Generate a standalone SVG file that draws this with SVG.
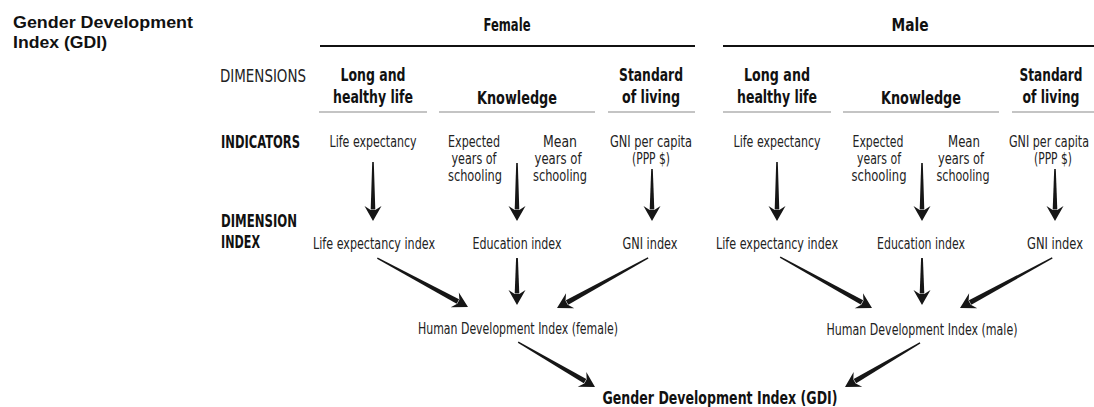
<svg xmlns="http://www.w3.org/2000/svg" xmlns:xlink="http://www.w3.org/1999/xlink" width="1094" height="407" viewBox="0 0 1094 407">
<style>
.title{font-family:"Liberation Sans",Arial,sans-serif;font-weight:bold;font-size:17px;fill:#111}
.hb{font-family:"Liberation Sans Narrow","DejaVu Sans Condensed","Liberation Sans",sans-serif;font-weight:bold;font-size:18.5px;fill:#111;text-anchor:middle}
.lb{font-family:"Liberation Sans Narrow","DejaVu Sans Condensed","Liberation Sans",sans-serif;font-weight:bold;font-size:17.5px;fill:#111}
.lr{font-family:"Liberation Sans Narrow","DejaVu Sans Condensed","Liberation Sans",sans-serif;font-size:18px;fill:#222}
.t{font-family:"Liberation Sans Narrow","DejaVu Sans Condensed","Liberation Sans",sans-serif;font-size:16.5px;fill:#222;text-anchor:middle}
.rule{stroke:#111;stroke-width:2}
.sub{stroke:#8a8a8a;stroke-width:1.2}
.arrow{fill:#161616}
</style>
<defs>
<polygon id="ah" points="0,0 -15,-8.5 -11,-2.3 -11,2.3 -15,8.5"/>
</defs>

<g id="title">
<text class="title" x="13" y="28" textLength="180" lengthAdjust="spacingAndGlyphs">Gender Development</text>
<text class="title" x="13" y="48" textLength="94" lengthAdjust="spacingAndGlyphs">Index (GDI)</text>
</g>

<g id="row-labels">
<text class="lr" x="220" y="82" textLength="86" lengthAdjust="spacingAndGlyphs">DIMENSIONS</text>
<text class="lb" x="221" y="148" textLength="79" lengthAdjust="spacingAndGlyphs">INDICATORS</text>
<text class="lb" x="221" y="227" textLength="76" lengthAdjust="spacingAndGlyphs">DIMENSION</text>
<text class="lb" x="221" y="248" textLength="39" lengthAdjust="spacingAndGlyphs">INDEX</text>
</g>

<g id="female-header">
<text class="hb" x="507" y="31" textLength="47" lengthAdjust="spacingAndGlyphs">Female</text>
<line class="rule" x1="320" y1="46" x2="695" y2="46"/>
</g>
<g id="male-header">
<text class="hb" x="910" y="31" textLength="37" lengthAdjust="spacingAndGlyphs">Male</text>
<line class="rule" x1="723" y1="46" x2="1094" y2="46"/>
</g>

<g id="f-dim-health">
<text class="hb" x="373" y="81" textLength="65" lengthAdjust="spacingAndGlyphs">Long and</text>
<text class="hb" x="373" y="103" textLength="80" lengthAdjust="spacingAndGlyphs">healthy life</text>
<line class="sub" x1="319" y1="112" x2="427" y2="112"/>
</g>
<g id="f-dim-knowledge">
<text class="hb" x="517" y="104" textLength="80" lengthAdjust="spacingAndGlyphs">Knowledge</text>
<line class="sub" x1="439" y1="112" x2="595" y2="112"/>
</g>
<g id="f-dim-living">
<text class="hb" x="651" y="81" textLength="64" lengthAdjust="spacingAndGlyphs">Standard</text>
<text class="hb" x="651" y="103" textLength="58" lengthAdjust="spacingAndGlyphs">of living</text>
<line class="sub" x1="608" y1="112" x2="695" y2="112"/>
</g>
<g id="m-dim-health">
<text class="hb" x="777" y="81" textLength="66" lengthAdjust="spacingAndGlyphs">Long and</text>
<text class="hb" x="777" y="103" textLength="80" lengthAdjust="spacingAndGlyphs">healthy life</text>
<line class="sub" x1="723" y1="112" x2="831" y2="112"/>
</g>
<g id="m-dim-knowledge">
<text class="hb" x="921" y="104" textLength="80" lengthAdjust="spacingAndGlyphs">Knowledge</text>
<line class="sub" x1="843" y1="112" x2="999" y2="112"/>
</g>
<g id="m-dim-living">
<text class="hb" x="1051" y="81" textLength="63" lengthAdjust="spacingAndGlyphs">Standard</text>
<text class="hb" x="1051" y="103" textLength="57" lengthAdjust="spacingAndGlyphs">of living</text>
<line class="sub" x1="1012" y1="112" x2="1094" y2="112"/>
</g>

<g id="f-ind-life">
<text class="t" x="373" y="147" textLength="87" lengthAdjust="spacingAndGlyphs">Life expectancy</text>
</g>
<g id="f-ind-expected">
<text class="t" x="474" y="147" textLength="52" lengthAdjust="spacingAndGlyphs">Expected</text>
<text class="t" x="474" y="164" textLength="45" lengthAdjust="spacingAndGlyphs">years of</text>
<text class="t" x="475" y="181" textLength="54" lengthAdjust="spacingAndGlyphs">schooling</text>
</g>
<g id="f-ind-mean">
<text class="t" x="560" y="147" textLength="34" lengthAdjust="spacingAndGlyphs">Mean</text>
<text class="t" x="558" y="164" textLength="47" lengthAdjust="spacingAndGlyphs">years of</text>
<text class="t" x="560" y="181" textLength="54" lengthAdjust="spacingAndGlyphs">schooling</text>
</g>
<g id="f-ind-gni">
<text class="t" x="651" y="147" textLength="82" lengthAdjust="spacingAndGlyphs">GNI per capita</text>
<text class="t" x="651" y="164" textLength="38" lengthAdjust="spacingAndGlyphs">(PPP $)</text>
</g>
<g id="m-ind-life">
<text class="t" x="777" y="147" textLength="87" lengthAdjust="spacingAndGlyphs">Life expectancy</text>
</g>
<g id="m-ind-expected">
<text class="t" x="878" y="147" textLength="51" lengthAdjust="spacingAndGlyphs">Expected</text>
<text class="t" x="879" y="164" textLength="44" lengthAdjust="spacingAndGlyphs">years of</text>
<text class="t" x="879" y="181" textLength="55" lengthAdjust="spacingAndGlyphs">schooling</text>
</g>
<g id="m-ind-mean">
<text class="t" x="964" y="147" textLength="32" lengthAdjust="spacingAndGlyphs">Mean</text>
<text class="t" x="961" y="164" textLength="46" lengthAdjust="spacingAndGlyphs">years of</text>
<text class="t" x="963" y="181" textLength="53" lengthAdjust="spacingAndGlyphs">schooling</text>
</g>
<g id="m-ind-gni">
<text class="t" x="1049" y="147" textLength="80" lengthAdjust="spacingAndGlyphs">GNI per capita</text>
<text class="t" x="1053" y="164" textLength="38" lengthAdjust="spacingAndGlyphs">(PPP $)</text>
</g>

<g id="f-idx-life"><text class="t" x="374" y="249" textLength="122" lengthAdjust="spacingAndGlyphs">Life expectancy index</text></g>
<g id="f-idx-edu"><text class="t" x="517" y="249" textLength="89" lengthAdjust="spacingAndGlyphs">Education index</text></g>
<g id="f-idx-gni"><text class="t" x="650" y="249" textLength="55" lengthAdjust="spacingAndGlyphs">GNI index</text></g>
<g id="m-idx-life"><text class="t" x="777" y="249" textLength="122" lengthAdjust="spacingAndGlyphs">Life expectancy index</text></g>
<g id="m-idx-edu"><text class="t" x="921" y="249" textLength="88" lengthAdjust="spacingAndGlyphs">Education index</text></g>
<g id="m-idx-gni"><text class="t" x="1055" y="249" textLength="56" lengthAdjust="spacingAndGlyphs">GNI index</text></g>

<g id="f-hdi"><text class="t" x="518" y="334" textLength="200" lengthAdjust="spacingAndGlyphs">Human Development Index (female)</text></g>
<g id="m-hdi"><text class="t" x="922" y="335" textLength="191" lengthAdjust="spacingAndGlyphs">Human Development Index (male)</text></g>
<g id="gdi"><text class="hb" x="720" y="404" textLength="235" lengthAdjust="spacingAndGlyphs">Gender Development Index (GDI)</text></g>

<g id="connectors" class="arrow">
<g transform="translate(373,221) rotate(90)"><use xlink:href="#ah"/><polygon points="-59,-0.8 -11.5,-2.3 -11.5,2.3 -59,0.8"/></g>
<g transform="translate(517,221) rotate(90)"><use xlink:href="#ah"/><polygon points="-58,-0.8 -11.5,-2.3 -11.5,2.3 -58,0.8"/></g>
<g transform="translate(652,221) rotate(90)"><use xlink:href="#ah"/><polygon points="-52,-0.8 -11.5,-2.3 -11.5,2.3 -52,0.8"/></g>
<g transform="translate(777,221) rotate(90)"><use xlink:href="#ah"/><polygon points="-59,-0.8 -11.5,-2.3 -11.5,2.3 -59,0.8"/></g>
<g transform="translate(922,221) rotate(90)"><use xlink:href="#ah"/><polygon points="-58,-0.8 -11.5,-2.3 -11.5,2.3 -58,0.8"/></g>
<g transform="translate(1055,221) rotate(90)"><use xlink:href="#ah"/><polygon points="-52,-0.8 -11.5,-2.3 -11.5,2.3 -52,0.8"/></g>
<g transform="translate(468,307) rotate(28.3)"><use xlink:href="#ah"/><polygon points="-103,-0.7 -11.5,-2.5 -11.5,2.5 -103,0.7"/></g>
<g transform="translate(517,305) rotate(90)"><use xlink:href="#ah"/><polygon points="-47,-0.9 -11.5,-2.3 -11.5,2.3 -47,0.9"/></g>
<g transform="translate(557,308) rotate(151.2)"><use xlink:href="#ah"/><polygon points="-104,-0.7 -11.5,-2.5 -11.5,2.5 -104,0.7"/></g>
<g transform="translate(872,308) rotate(29)"><use xlink:href="#ah"/><polygon points="-105,-0.7 -11.5,-2.5 -11.5,2.5 -105,0.7"/></g>
<g transform="translate(922,305) rotate(90)"><use xlink:href="#ah"/><polygon points="-47,-0.9 -11.5,-2.3 -11.5,2.3 -47,0.9"/></g>
<g transform="translate(960,308) rotate(151.5)"><use xlink:href="#ah"/><polygon points="-105,-0.7 -11.5,-2.5 -11.5,2.5 -105,0.7"/></g>
<g transform="translate(595,387) rotate(30.3)"><use xlink:href="#ah"/><polygon points="-89,-0.7 -11.5,-2.5 -11.5,2.5 -89,0.7"/></g>
<g transform="translate(845,387) rotate(149.6)"><use xlink:href="#ah"/><polygon points="-87,-0.7 -11.5,-2.5 -11.5,2.5 -87,0.7"/></g>
</g>
</svg>
